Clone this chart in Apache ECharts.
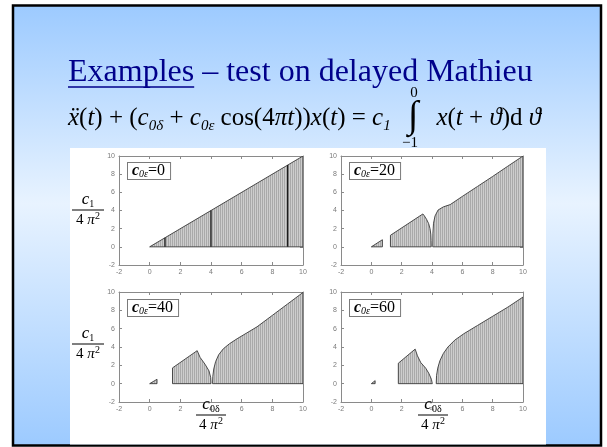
<!DOCTYPE html>
<html><head><meta charset="utf-8">
<script src="https://cdn.jsdelivr.net/npm/echarts@6/dist/echarts.min.js"></script>
<style>html,body{margin:0;padding:0;background:#fff}#chart{width:607px;height:447px}</style>
</head><body><div id="chart"></div>
<script>
// Axis range shared by the four stability charts
const axisMin = -2;
const axisMax = 10;
const axisStep = 2;
const panelEps = ['0', '20', '40', '60'];

// Stable domains in the (c0δ/4π², c1/4π²) plane, c0ε = 0
const eps0Domain = [[0, 0], [10, 10], [10, 0]];
const eps0LineX = [1, 4, 9];
const eps0LineH = [1, 4, 9];

// c0ε = 20
const eps20DomainA = [[0, 0], [0.73, 0.78], [0.73, 0]];
const eps20DomainB = [[1.26, 0], [1.26, 1.27], [3.4, 3.62], [3.5, 3.4], [3.65, 3.0], [3.78, 2.55], [3.87, 2.0], [3.92, 1.4], [3.94, 0.7], [3.95, 0]];
const eps20DomainC = [[4.05, 0], [4.06, 1.5], [4.1, 2.6], [4.2, 3.4], [4.4, 4.05], [4.75, 4.4], [5.2, 4.65], [6, 5.55], [7, 6.65], [8, 7.75], [9, 8.88], [10, 10], [10, 0]];

// c0ε = 40
const eps40DomainA = [[0, 0], [0.48, 0.48], [0.48, 0]];
const eps40DomainB = [[1.49, 0], [1.49, 1.72], [3.1, 3.6], [3.29, 2.86], [3.61, 2.12], [3.87, 1.39], [3.98, 0.66], [4.0, 0]];
const eps40DomainC = [[4.1, 0], [4.12, 0.8], [4.18, 1.6], [4.3, 2.4], [4.5, 3.15], [4.8, 3.8], [5.2, 4.35], [5.7, 4.9], [6.3, 5.5], [7, 6.2], [8, 7.45], [9, 8.7], [10, 9.95], [10, 0]];

// c0ε = 60
const eps60DomainA = [[0, 0], [0.25, 0.33], [0.25, 0]];
const eps60DomainB = [[1.78, 0], [1.78, 2.23], [2.89, 3.77], [3.04, 3.04], [3.26, 2.3], [3.59, 1.68], [3.8, 1.1], [3.96, 0.48], [4.02, 0]];
const eps60DomainC = [[4.28, 0], [4.3, 0.9], [4.38, 1.7], [4.52, 2.5], [4.75, 3.3], [5.05, 4.0], [5.5, 4.75], [6.1, 5.45], [7, 6.35], [8, 7.35], [9, 8.35], [10, 9.45], [10, 0]];

const panelDomains = [
  [eps0Domain],
  [eps20DomainA, eps20DomainB, eps20DomainC],
  [eps40DomainA, eps40DomainB, eps40DomainC],
  [eps60DomainA, eps60DomainB, eps60DomainC]
];

const SERIF = '"Liberation Serif","Times New Roman",serif';
const SANS = '"Liberation Sans",Arial,sans-serif';

// vertical-stripe texture used to shade the stable domains
const hatchCanvas = document.createElement('canvas');
hatchCanvas.width = 2; hatchCanvas.height = 2;
(function () {
  const c = hatchCanvas.getContext('2d');
  c.fillStyle = '#cdcdcd'; c.fillRect(0, 0, 2, 2);
  c.fillStyle = '#a9a9a9'; c.fillRect(0, 0, 1, 2);
})();
const hatch = { image: hatchCanvas, repeat: 'repeat' };

const grids = [
  { left: 119, top: 156, width: 184, height: 109 },
  { left: 341, top: 156, width: 182, height: 109 },
  { left: 119, top: 292, width: 184, height: 110 },
  { left: 341, top: 292, width: 182, height: 110 }
];

const axisColor = '#8a8a8a';
function makeAxis(i, pos, labels) {
  return {
    gridIndex: i, type: 'value', min: axisMin, max: axisMax, interval: axisStep, position: pos,
    axisLine: { onZero: false, lineStyle: { color: axisColor, width: 1 } },
    axisTick: { inside: true, length: 3, lineStyle: { color: axisColor } },
    axisLabel: { show: labels, fontSize: 7, color: '#7a7a7a', margin: 4, fontFamily: SANS },
    splitLine: { show: false }
  };
}
const xAxes = [], yAxes = [];
for (let i = 0; i < 4; i++) {
  xAxes.push(makeAxis(i, 'bottom', true), makeAxis(i, 'top', false));
  yAxes.push(makeAxis(i, 'left', true), makeAxis(i, 'right', false));
}

const series = [];
panelDomains.forEach((domains, i) => {
  domains.forEach(pts => {
    series.push({
      type: 'custom', xAxisIndex: 2 * i, yAxisIndex: 2 * i, clip: true, silent: true, data: pts,
      renderItem(params, api) {
        if (params.dataIndex !== 0) return null;
        return { type: 'polygon', shape: { points: pts.map(p => api.coord(p)) },
          style: { fill: hatch, stroke: '#3a3a3a', lineWidth: 0.9 } };
      }
    });
  });
});
// boundary curves of zero width for c0ε = 0
series.push({
  type: 'custom', xAxisIndex: 0, yAxisIndex: 0, clip: true, silent: true,
  data: eps0LineX.map((x, k) => [x, eps0LineH[k]]),
  renderItem(params, api) {
    const top = api.coord([api.value(0), api.value(1)]);
    const bot = api.coord([api.value(0), 0]);
    return { type: 'line', shape: { x1: bot[0], y1: bot[1], x2: top[0], y2: top[1] },
      style: { stroke: '#1a1a1a', lineWidth: 1.3 } };
  }
});

// ---- slide decoration, title, equation and axis labels ----
const graphic = [];
graphic.push({
  type: 'rect', z: -20, shape: { x: 13, y: 5.5, width: 588, height: 440 },
  style: {
    fill: new echarts.graphic.LinearGradient(0, 0, 0, 1, [
      { offset: 0, color: '#9ccaff' }, { offset: 0.45, color: '#e8f3ff' }, { offset: 1, color: '#9ccaff' }
    ]),
    stroke: '#000', lineWidth: 2.5
  }
});
graphic.push({ type: 'rect', z: -19, shape: { x: 70, y: 148, width: 476, height: 296.5 }, style: { fill: '#fff' } });

const measure = document.createElement('canvas').getContext('2d');
measure.font = '32px ' + SERIF;
const exWidth = measure.measureText('Examples').width;
const titleX = 68;
graphic.push({ type: 'text', z: 10, style: { x: titleX, y: 73, text: 'Examples', font: '32px ' + SERIF, fill: '#00008b', align: 'left', verticalAlign: 'middle' } });
graphic.push({ type: 'line', z: 10, shape: { x1: titleX, y1: 87, x2: titleX + exWidth, y2: 87 }, style: { stroke: '#00008b', lineWidth: 1.5 } });
graphic.push({ type: 'text', z: 10, style: { x: titleX + exWidth, y: 73, text: ' – test on delayed Mathieu', font: '32px ' + SERIF, fill: '#00008b', align: 'left', verticalAlign: 'middle' } });

const eqRich = {
  i: { fontFamily: SERIF, fontStyle: 'italic', fontSize: 25, lineHeight: 32, verticalAlign: 'middle', fill: '#000' },
  r: { fontFamily: SERIF, fontSize: 25, lineHeight: 32, verticalAlign: 'middle', fill: '#000' },
  s: { fontFamily: SERIF, fontStyle: 'italic', fontSize: 15, lineHeight: 15, verticalAlign: 'bottom', fill: '#000' }
};
graphic.push({ type: 'text', z: 10, style: {
  x: 68, y: 118, align: 'left', verticalAlign: 'middle', rich: eqRich,
  text: '{i|ẍ}{r|(}{i|t}{r|) + (}{i|c}{s|0δ}{r| + }{i|c}{s|0ε}{r| cos(4}{i|πt}{r|))}{i|x}{r|(}{i|t}{r|) = }{i|c}{s|1}'
} });
graphic.push({ type: 'text', z: 10, style: { x: 413, y: 117, text: '∫', font: '38px ' + SERIF, fill: '#000', align: 'center', verticalAlign: 'middle' } });
graphic.push({ type: 'text', z: 10, style: { x: 414, y: 93, text: '0', font: '15px ' + SERIF, fill: '#000', align: 'center', verticalAlign: 'middle' } });
graphic.push({ type: 'text', z: 10, style: { x: 410, y: 143, text: '−1', font: '15px ' + SERIF, fill: '#000', align: 'center', verticalAlign: 'middle' } });
graphic.push({ type: 'text', z: 10, style: {
  x: 541, y: 118, align: 'right', verticalAlign: 'middle', rich: eqRich,
  text: '{i|x}{r|(}{i|t}{r| + }{i|ϑ}{r|)d }{i|ϑ}'
} });

// legend boxes
const boxRich = {
  c: { fontFamily: SERIF, fontStyle: 'italic', fontWeight: 'bold', fontSize: 16, lineHeight: 16, verticalAlign: 'middle', fill: '#000' },
  s: { fontFamily: SERIF, fontStyle: 'italic', fontSize: 10, lineHeight: 10, verticalAlign: 'bottom', fill: '#000' },
  r: { fontFamily: SERIF, fontSize: 16, lineHeight: 16, verticalAlign: 'middle', fill: '#000' }
};
grids.forEach((g, i) => {
  graphic.push({ type: 'text', z: 50, style: {
    x: g.left + 9, y: g.top + 7 + (i > 1 ? 1 : 0), align: 'left', verticalAlign: 'top', rich: boxRich,
    text: '{c|c}{s|0ε}{r|=' + panelEps[i] + '}',
    backgroundColor: '#fff', borderColor: '#7a7a7a', borderWidth: 1, padding: [0, 5, 0, 4]
  } });
});

// fraction labels
const fracRich = {
  i: { fontFamily: SERIF, fontStyle: 'italic', fontSize: 17, lineHeight: 18, verticalAlign: 'middle', fill: '#000' },
  r: { fontFamily: SERIF, fontSize: 15, lineHeight: 18, verticalAlign: 'middle', fill: '#000' },
  p: { fontFamily: SERIF, fontStyle: 'italic', fontSize: 15, lineHeight: 18, verticalAlign: 'middle', fill: '#000' },
  s: { fontFamily: SERIF, fontSize: 10, lineHeight: 10, verticalAlign: 'bottom', fill: '#000' },
  t: { fontFamily: SERIF, fontSize: 10, lineHeight: 10, verticalAlign: 'top', fill: '#000' }
};
function fraction(cx, ly, num, w) {
  graphic.push({ type: 'text', z: 10, style: { x: cx, y: ly - 1, align: 'center', verticalAlign: 'bottom', rich: fracRich, text: num } });
  graphic.push({ type: 'line', z: 10, shape: { x1: cx - w / 2, y1: ly, x2: cx + w / 2, y2: ly }, style: { stroke: '#000', lineWidth: 1 } });
  graphic.push({ type: 'text', z: 10, style: { x: cx, y: ly + 1, align: 'center', verticalAlign: 'top', rich: fracRich, text: '{r|4 }{p|π}{t|2}' } });
}
fraction(88, 210, '{i|c}{s|1}', 32);
fraction(88, 344, '{i|c}{s|1}', 32);
fraction(211, 415, '{i|c}{s|0δ}', 30);
fraction(433, 415, '{i|c}{s|0δ}', 30);

const chart = echarts.init(document.getElementById('chart'), null, { renderer: 'canvas' });
chart.setOption({
  animation: false,
  backgroundColor: '#fff',
  grid: grids,
  xAxis: xAxes,
  yAxis: yAxes,
  series: series,
  graphic: graphic
});
</script></body></html>
